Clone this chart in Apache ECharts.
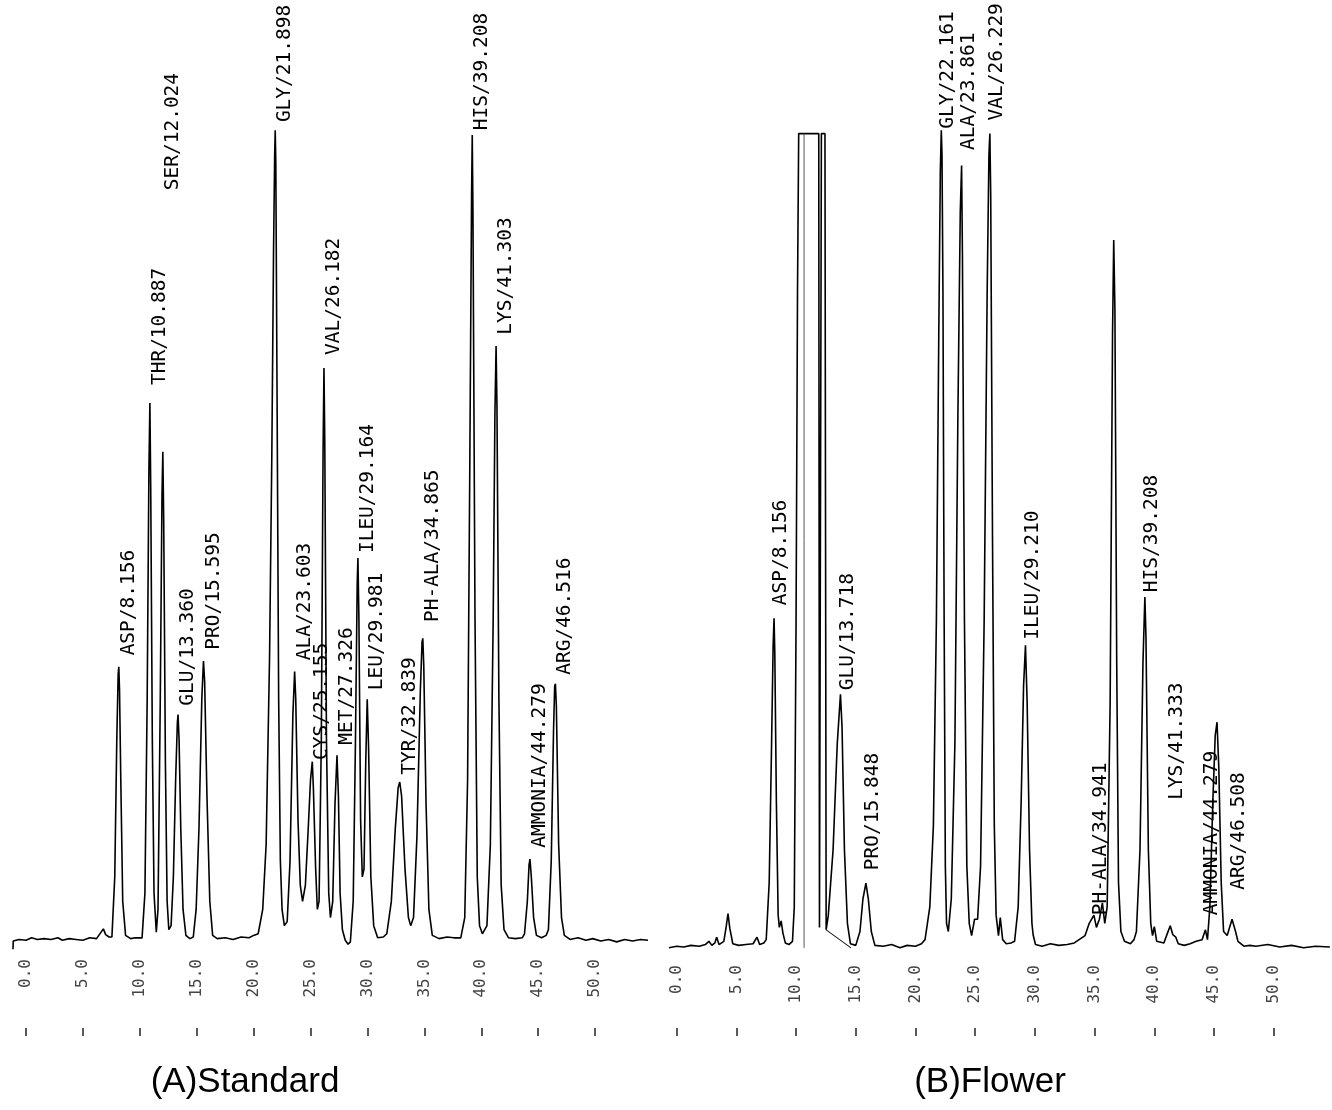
<!DOCTYPE html>
<html>
<head>
<meta charset="utf-8">
<script src="https://cdn.jsdelivr.net/npm/echarts@6/dist/echarts.min.js"></script>
<style>
html,body{margin:0;padding:0;background:#fff;}
#chart{width:1332px;height:1110px;}
</style>
</head>
<body>
<div id="chart"></div>
<script>
// ---------------- DATA ----------------
// time in minutes, detector response in % of full scale
const tickValues = [0, 5, 10, 15, 20, 25, 30, 35, 40, 45, 50];

const stdPeakNames = ['ASP','THR','SER','GLU','PRO','GLY','ALA','CYS','VAL','MET','ILEU','LEU','TYR','PH-ALA','HIS','LYS','AMMONIA','ARG'];
const stdPeakTimes = [8.156,10.887,12.024,13.360,15.595,21.898,23.603,25.155,26.182,27.326,29.164,29.981,32.839,34.865,39.208,41.303,44.279,46.516];

const flowerPeakNames = ['ASP','GLU','PRO','GLY','ALA','VAL','ILEU','PH-ALA','HIS','LYS','AMMONIA','ARG'];
const flowerPeakTimes = [8.156,13.718,15.848,22.161,23.861,26.229,29.210,34.941,39.208,41.333,44.279,46.508];

const stdTrace = [
[-1.14,-0.9],[-1.12,0.1],[-0.6,0.3],[0,0.2],[0.5,0.5],[1.0,0.3],[1.6,0.4],[2.2,0.3],[2.8,0.5],[3.2,0.2],[3.8,0.4],[4.4,0.3],[5.0,0.2],[5.6,0.5],[6.2,0.4],[6.6,1.2],[6.8,1.6],[7.0,0.9],[7.3,0.6],
[7.55,0.6],[7.8,8],[7.98,25],[8.1,33],[8.156,33.9],[8.22,31],[8.33,20],[8.5,5],[8.75,0.8],[9.2,0.4],[9.6,0.5],
[10.2,0.5],[10.45,6],[10.65,30],[10.8,58],[10.887,66.4],[10.96,56],[11.1,25],[11.25,6],[11.45,1.2],
[11.6,4],[11.8,30],[11.95,55],[12.024,60.4],[12.1,52],[12.25,22],[12.4,5],[12.55,1.5],
[12.75,2],[12.95,8],[13.15,20],[13.3,27],[13.36,28],[13.45,25],[13.6,14],[13.8,4],[14.05,0.8],[14.4,0.4],
[14.7,0.6],[14.95,4],[15.2,14],[15.45,30],[15.595,34.6],[15.7,32],[15.9,18],[16.15,5],[16.4,0.8],[16.8,0.4],[17.5,0.5],[18.2,0.3],[18.9,0.6],[19.6,0.5],[20.0,0.8],
[20.4,1],[20.8,4],[21.1,12],[21.4,35],[21.6,60],[21.75,85],[21.85,97],[21.898,100],[21.95,96],[22.05,70],[22.2,30],[22.35,10],[22.5,4],
[22.7,2],[22.95,2.5],[23.2,10],[23.45,28],[23.603,33.3],[23.7,30],[23.9,15],[24.1,7],[24.3,5],
[24.55,7],[24.8,14],[25.0,20],[25.155,22.2],[25.25,19],[25.45,9],[25.6,4],
[25.75,5],[25.95,25],[26.1,60],[26.182,70.7],[26.25,62],[26.4,25],[26.6,6],[26.75,3],
[26.95,5],[27.15,17],[27.326,23],[27.45,18],[27.6,6],[27.8,1.5],[28.05,0.2],[28.3,-0.3],
[28.5,0],[28.75,5],[28.95,25],[29.1,44],[29.164,47.3],[29.25,40],[29.4,15],[29.55,8],
[29.7,9],[29.85,22],[29.981,29.9],[30.1,24],[30.3,8],[30.55,2],[30.9,0.5],[31.4,0.6],
[31.7,1],[32.1,5],[32.45,14],[32.7,19],[32.839,19.7],[33.0,18],[33.3,9],[33.6,3],[33.8,2],
[34.05,3],[34.35,13],[34.65,31],[34.8,37],[34.865,37.4],[34.95,34],[35.15,17],[35.4,4],[35.7,0.8],[36.3,0.4],[37.0,0.6],[37.6,0.5],
[38.2,0.5],[38.55,3],[38.8,20],[39.0,60],[39.15,92],[39.208,99.4],[39.27,90],[39.45,40],[39.65,8],[39.85,2],[40.1,1],
[40.5,2],[40.8,12],[41.05,40],[41.2,65],[41.303,73.4],[41.38,66],[41.55,30],[41.75,7],[42.0,1.5],[42.4,0.5],[43.0,0.4],[43.6,0.5],
[43.8,1],[44.05,5],[44.2,9.5],[44.279,10.2],[44.4,8],[44.6,3],[44.85,0.8],[45.3,0.5],[45.7,0.8],
[45.9,1.5],[46.15,10],[46.35,26],[46.45,31.5],[46.516,31.8],[46.6,29],[46.8,12],[47.05,3],[47.3,0.8],[47.8,0.3],[48.5,0.5],[49.2,0.2],[49.8,0.4],[50.5,0.1],[51.2,0.3],[51.9,0.0],[52.6,0.3],[53.3,0.1],[54.0,0.3],[54.65,0.2]
];

const flowerTrace = [
[-0.64,0],[0.0,0.2],[0.6,0.1],[1.2,0.3],[1.9,0.2],[2.4,0.4],[2.7,0.8],[2.95,0.3],[3.2,0.6],[3.35,1.3],[3.55,0.4],[3.95,0.8],[4.15,2.6],[4.3,4.2],[4.45,2.4],[4.7,0.5],[5.2,0.3],[5.8,0.4],[6.4,0.5],[6.73,1.3],[6.95,0.4],[7.3,0.6],
[7.5,1],[7.75,8],[7.95,25],[8.08,37],[8.156,40.3],[8.22,36],[8.35,18],[8.5,4],[8.6,2.5],[8.75,3.3],[8.9,1.8],[9.1,0.6],[9.4,0.4],[9.7,0.8],
[9.85,5],[10.0,40],[10.12,80],[10.22,99.6],[11.9,99.6],[11.96,2.5],[12.06,2.5],[12.12,99.6],[12.42,99.6],[12.47,50],[12.52,2.2],
[12.7,4],[13.1,12],[13.45,25],[13.718,31],[13.85,27],[14.05,12],[14.3,3],[14.55,0.5],
[15.0,0.3],[15.35,2],[15.6,6],[15.848,7.9],[16.05,6],[16.3,2],[16.6,0.3],[17.3,0.2],[18.0,0.4],[18.7,0],[19.3,0.3],[20.0,0.2],[20.5,0.5],
[20.8,1],[21.2,5],[21.5,15],[21.75,40],[21.95,75],[22.08,95],[22.161,100],[22.22,97],[22.3,80],[22.4,40],[22.5,10],[22.6,3],
[22.75,2],[23.0,6],[23.3,25],[23.55,65],[23.75,90],[23.861,95.7],[23.93,85],[24.1,40],[24.3,10],[24.5,3],[24.7,1.5],
[24.95,3.5],[25.2,3.5],[25.45,10],[25.75,40],[26.0,80],[26.15,97],[26.229,99.6],[26.3,92],[26.45,50],[26.6,15],[26.75,4],[26.95,1.5],
[27.1,3.7],[27.3,1],[27.6,0.5],[28.0,0.6],
[28.3,0.8],[28.6,5],[28.85,18],[29.05,32],[29.21,37],[29.35,30],[29.55,12],[29.75,3],[29.85,1.6],[30.05,0.4],
[30.6,0.2],[31.3,0.5],[32.0,0.3],[32.7,0.4],[33.3,0.6],[33.7,1],
[34.2,1.5],[34.55,3],[34.941,4.0],[35.15,2.5],[35.4,3.5],[35.65,5.5],[35.85,3],[36.05,5],[36.3,30],[36.5,75],[36.6,86.6],[36.7,78],[36.85,35],[37.0,8],[37.2,2],[37.5,0.8],[38.0,0.5],[38.3,1],
[38.5,2],[38.8,12],[39.05,35],[39.208,42.9],[39.3,38],[39.5,12],[39.7,3],[39.85,1.5],[40.0,2.6],[40.2,0.8],
[40.8,0.6],[41.1,1.8],[41.333,2.7],[41.55,1.6],[41.8,1.3],[42.0,0.5],[42.5,0.3],[43.0,0.5],[43.5,0.8],
[44.0,1],[44.279,2.2],[44.45,1],[44.65,5],[44.9,18],[45.1,26],[45.25,27.6],[45.4,22],[45.6,8],[45.8,2],
[46.1,1.5],[46.508,3.5],[46.8,2],[47.0,0.8],[47.5,0.2],[48.0,0.3],[48.5,0.2],[49.5,0.4],[50.5,0.1],[51.5,0.3],[52.5,0.0],[53.5,0.2],[54.7,0.1]
];

// integrator marks on the Flower trace
const flowerDropLine = [[10.67,0],[10.67,99.6]];
const flowerSkimLine = [[12.52,2.2],[14.6,0]];

// ---------------- LAYOUT (label anchor heights, in response units) ----------------
const LAYOUT = {
  stdLabelBase:    [35.3,68.6,92.6,29.1,36.0,101.0,34.7,22.4,72.3,24.3,47.9,31.0,20.6,39.4,100.0,74.8,11.6,32.9],
  flowerLabelBase: [41.9,31.5,9.5,100.2,97.6,101.2,37.7,4.0,43.5,18.1,4.0,7.1]
};

const labelFont = '"DejaVu Sans Mono", "Liberation Mono", monospace';

function labelSeries(xi, yi, names, times, bases, dx) {
  return {
    type: 'custom', xAxisIndex: xi, yAxisIndex: yi, clip: false, silent: true, z: 5,
    data: times.map((t, i) => [t, bases[i]]),
    renderItem: function (params, api) {
      const i = params.dataIndex;
      const p = api.coord([api.value(0), api.value(1)]);
      return {
        type: 'text', x: p[0] + dx, y: p[1], rotation: Math.PI / 2,
        style: {
          text: names[i] + '/' + times[i].toFixed(3),
          fill: '#000', fontSize: 19.5, fontFamily: labelFont,
          align: 'left', verticalAlign: 'middle'
        }
      };
    }
  };
}

function labelAxis(gi, min, max) {
  return {
    type: 'value', gridIndex: gi, min: min, max: max, position: 'bottom',
    axisLine: { show: false }, axisTick: { show: false }, splitLine: { show: false },
    axisLabel: {
      customValues: tickValues, rotate: 90, margin: 9,
      color: '#444', fontSize: 16, fontFamily: labelFont,
      formatter: v => v.toFixed(1)
    }
  };
}
function tickAxis(gi, min, max, off) {
  return {
    type: 'value', gridIndex: gi, min: min, max: max, position: 'bottom', offset: off,
    axisLine: { show: false }, splitLine: { show: false },
    axisLabel: { show: false },
    axisTick: { show: true, customValues: tickValues, length: 8, inside: false, lineStyle: { color: '#222', width: 1.5 } }
  };
}

const chart = echarts.init(document.getElementById('chart'), null, { renderer: 'canvas' });
const lineStyle = { color: '#000', width: 1.6 };
chart.setOption({
  animation: false,
  backgroundColor: '#fff',
  title: [
    { text: '(A)Standard', left: 240, top: 1060, textAlign: 'center',
      textStyle: { fontFamily: '"Liberation Sans", Arial, sans-serif', fontSize: 35, fontWeight: 'normal', color: '#000' } },
    { text: '(B)Flower', left: 985, top: 1060, textAlign: 'center',
      textStyle: { fontFamily: '"Liberation Sans", Arial, sans-serif', fontSize: 35, fontWeight: 'normal', color: '#000' } }
  ],
  grid: [
    { left: 13, width: 635, top: 114, bottom: 160 },
    { left: 669, width: 661, top: 114, bottom: 154 }
  ],
  xAxis: [
    labelAxis(0, -1.14, 54.65),
    tickAxis(0, -1.14, 54.65, 78),
    labelAxis(1, -0.64, 54.71),
    tickAxis(1, -0.64, 54.71, 72)
  ],
  yAxis: [
    { type: 'value', gridIndex: 0, min: -1, max: 102, show: false },
    { type: 'value', gridIndex: 1, min: -1, max: 102, show: false }
  ],
  series: [
    { type: 'line', xAxisIndex: 0, yAxisIndex: 0, data: stdTrace, showSymbol: false, symbol: 'none', lineStyle: lineStyle, clip: false },
    { type: 'line', xAxisIndex: 2, yAxisIndex: 1, data: flowerTrace, showSymbol: false, symbol: 'none', lineStyle: lineStyle, clip: false },
    { type: 'line', xAxisIndex: 2, yAxisIndex: 1, data: flowerDropLine, showSymbol: false, symbol: 'none', lineStyle: { color: '#444', width: 0.9 } },
    { type: 'line', xAxisIndex: 2, yAxisIndex: 1, data: flowerSkimLine, showSymbol: false, symbol: 'none', lineStyle: { color: '#222', width: 1.1 } },
    labelSeries(0, 0, stdPeakNames, stdPeakTimes, LAYOUT.stdLabelBase, 10),
    labelSeries(2, 1, flowerPeakNames, flowerPeakTimes, LAYOUT.flowerLabelBase, 7)
  ]
});
</script>
</body>
</html>
